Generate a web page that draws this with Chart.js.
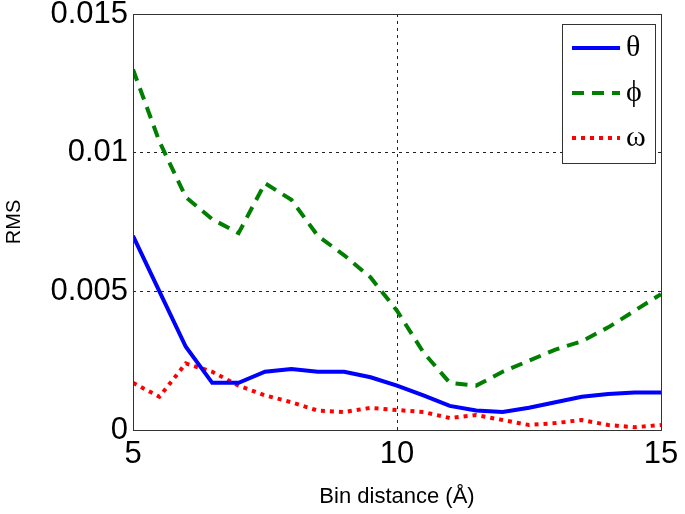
<!DOCTYPE html>
<html>
<head>
<meta charset="utf-8">
<script src="https://cdn.jsdelivr.net/npm/chart.js@4/dist/chart.umd.min.js"></script>
<style>
  html, body { margin: 0; padding: 0; background: #fff; }
  #wrap { width: 685px; height: 514px; }
</style>
</head>
<body>
<div id="wrap"><canvas id="rms-chart"></canvas></div>
<script>
// bin distances (Å)
var binDistance = [5, 5.5, 6, 6.5, 7, 7.5, 8, 8.5, 9, 9.5, 10, 10.5, 11, 11.5, 12, 12.5, 13, 13.5, 14, 14.5, 15];

var theta = [0.0070, 0.0050, 0.0030, 0.0017, 0.0017, 0.0021, 0.0022, 0.0021, 0.0021, 0.0019, 0.0016,
             0.00125, 0.00087, 0.0007, 0.00065, 0.0008, 0.001, 0.0012, 0.0013, 0.00135, 0.00135];
var phi = [0.0130, 0.0104, 0.0084, 0.0076, 0.0071, 0.0089, 0.0083, 0.0070, 0.0063, 0.0055, 0.0043,
           0.0028, 0.0017, 0.0016, 0.0021, 0.0025, 0.0029, 0.0032, 0.0037, 0.0043, 0.0049];
var omega = [0.0017, 0.0012, 0.0024, 0.0021, 0.0016, 0.00125, 0.0010, 0.0007, 0.00065, 0.0008, 0.00072,
             0.00065, 0.00043, 0.00054, 0.00036, 0.00018, 0.00025, 0.00036, 0.00018, 0.0001, 0.00018];

var yTicks = [0, 0.005, 0.01, 0.015];
var yTickText = ['0', '0.005', '0.01', '0.015'];
var xTicks = [5, 10, 15];

function pts(vals) {
    return vals.map(function(v, i){ return {x: binDistance[i], y: v}; });
}

// box around the plot plus a legend inside the top-right corner
var boxAndLegend = {
    id: 'boxAndLegend',
    afterDatasetsDraw: function(chart) {
        var ctx = chart.ctx, a = chart.chartArea;
        ctx.save();
        ctx.strokeStyle = '#333';
        ctx.lineWidth = 1;
        ctx.setLineDash([]);
        ctx.strokeRect(a.left + 0.5, a.top + 0.5, a.right - a.left, a.bottom - a.top);

        var lx = 562, ly = 24, lw = 93, lh = 139;
        ctx.fillStyle = '#fff';
        ctx.fillRect(lx, ly, lw, lh);
        ctx.strokeStyle = '#333';
        ctx.strokeRect(lx + 0.5, ly + 0.5, lw, lh);
        chart.data.datasets.forEach(function(ds, i){
            var y = ly + 24 + i * 45;
            ctx.strokeStyle = ds.borderColor;
            ctx.lineWidth = ds.borderWidth;
            ctx.setLineDash(ds.borderDash || []);
            ctx.beginPath();
            ctx.moveTo(lx + 10, y);
            ctx.lineTo(lx + 58, y);
            ctx.stroke();
            ctx.setLineDash([]);
            ctx.fillStyle = '#000';
            ctx.font = '30px "Liberation Serif", "DejaVu Serif", serif';
            ctx.textBaseline = 'middle';
            ctx.fillText(ds.label, lx + 64, y);
        });
        ctx.restore();
    }
};

new Chart(document.getElementById('rms-chart'), {
    type: 'line',
    data: {
        datasets: [{
            label: 'θ',
            data: pts(theta),
            borderColor: '#0000ff',
            borderWidth: 4,
            pointRadius: 0,
            fill: false
        }, {
            label: 'ϕ',
            data: pts(phi),
            borderColor: '#007f00',
            borderWidth: 4,
            borderDash: [12, 8],
            pointRadius: 0,
            fill: false
        }, {
            label: 'ω',
            data: pts(omega),
            borderColor: '#ff0000',
            borderWidth: 4,
            borderDash: [4, 5],
            pointRadius: 0,
            fill: false
        }]
    },
    options: {
        responsive: true,
        maintainAspectRatio: false,
        animation: false,
        layout: { padding: { left: 0, right: 24, top: 14, bottom: 0 } },
        plugins: {
            legend: { display: false },
            tooltip: { enabled: false }
        },
        scales: {
            x: {
                type: 'linear',
                min: 5,
                max: 15,
                afterBuildTicks: function(s){ s.ticks = xTicks.map(function(v){ return {value: v}; }); },
                afterFit: function(s){ s.height = 84; s.paddingLeft = 0; s.paddingRight = 0; },
                border: { display: false, dash: [3, 4] },
                grid: {
                    drawTicks: false,
                    color: function(c){ return c.tick && c.tick.value === 10 ? '#222' : 'rgba(0,0,0,0)'; },
                    lineWidth: 1
                },
                ticks: {
                    padding: 6,
                    color: '#000',
                    font: { family: '"Liberation Sans", Arial, sans-serif', size: 31 },
                    maxRotation: 0
                },
                title: {
                    display: true,
                    text: 'Bin distance (Å)',
                    color: '#000',
                    font: { family: '"Liberation Sans", Arial, sans-serif', size: 22 },
                    padding: { top: 4, bottom: 4 }
                }
            },
            y: {
                min: 0,
                max: 0.015,
                afterBuildTicks: function(s){ s.ticks = yTicks.map(function(v){ return {value: v}; }); },
                afterFit: function(s){ s.width = 133; s.paddingTop = 0; s.paddingBottom = 0; },
                border: { display: false, dash: [3, 4] },
                grid: {
                    drawTicks: false,
                    color: function(c){
                        var v = c.tick && c.tick.value;
                        return (v === 0.005 || v === 0.01) ? '#222' : 'rgba(0,0,0,0)';
                    },
                    lineWidth: 1
                },
                ticks: {
                    padding: 5,
                    color: '#000',
                    font: { family: '"Liberation Sans", Arial, sans-serif', size: 31 },
                    callback: function(v){
                        var i = yTicks.indexOf(v);
                        return i >= 0 ? yTickText[i] : '';
                    }
                },
                title: {
                    display: true,
                    text: 'RMS',
                    color: '#000',
                    font: { family: '"Liberation Sans", Arial, sans-serif', size: 20 },
                    padding: { top: 2, bottom: 0 }
                }
            }
        }
    },
    plugins: [boxAndLegend]
});
</script>
</body>
</html>
